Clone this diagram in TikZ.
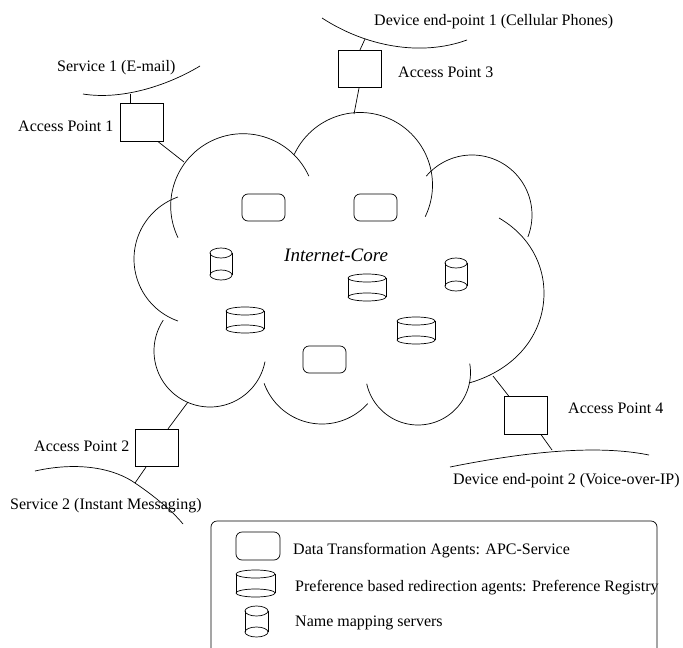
\documentclass[tikz,border=0pt]{standalone}
\usepackage{fontspec}
\setmainfont{Liberation Serif}
\tikzset{
  x=1pt,y=-1pt,
  line/.style={draw=black,line width=0.7pt},
  apbox/.style={line,rectangle,minimum width=43pt,minimum height=37.5pt,inner sep=0pt},
  agent/.style={line,rectangle,rounded corners=6pt,minimum width=43pt,minimum height=27pt,inner sep=0pt},
  lab/.style={anchor=base west,inner sep=0pt,font=\fontsize{16}{18}\selectfont},
}
% lobe of the cloud: centre x, centre y, radius, from angle, to angle (clockwise on screen)
\newcommand{\lobe}[5]{\draw[line] plot[domain=#4:#5,samples=90] ({#1+#3*cos(\x)},{#2+#3*sin(\x)});}
% drum: left x, right x, top y, bottom y, ellipse height
\newcommand{\drum}[5]{%
  \draw[line] ({(#1+#2)/2},{#3+#5/2}) ellipse [x radius={(#2-#1)/2},y radius={#5/2}];
  \draw[line] ({(#1+#2)/2},{#4-#5/2}) ellipse [x radius={(#2-#1)/2},y radius={#5/2}];
  \draw[line] (#1,{#3+#5/2}) -- (#1,{#4-#5/2}) (#2,{#3+#5/2}) -- (#2,{#4-#5/2});}
\begin{document}
\begin{tikzpicture}
\useasboundingbox (0,0) rectangle (683,648);
% cloud
\lobe{243}{206}{72.3}{154}{335.6}
\lobe{360}{185}{72.5}{204.8}{385.9}
\lobe{472}{215}{60}{220.3}{381.4}
\draw[line] (499,218) .. controls (530,236) and (544,265) .. (544,293)
  .. controls (544,335) and (515,370) .. (469,383);
\lobe{418}{372.5}{52.5}{-9.8}{167.6}
\lobe{322}{362.5}{61.5}{42}{160.2}
\lobe{210}{351}{56}{11}{213.4}
\lobe{199.7}{259}{65.7}{109.3}{250.7}
% access points
\node[apbox] (ap1) at (141.5,122.5) {};
\node[apbox] (ap3) at (359.5,69) {};
\node[apbox] (ap2) at (157,448) {};
\node[apbox] (ap4) at (525.5,415.5) {};
% free ends of connectors
\coordinate (s1) at (130,94);
\coordinate (c1) at (184,162);
\coordinate (d1) at (365,39);
\coordinate (c3) at (354,114);
\coordinate (c2) at (188,402);
\coordinate (s2) at (135,483);
\coordinate (c4) at (493,376);
\coordinate (d2) at (552,450);
\draw[line] (s1) -- (ap1.north -| s1);
\draw[line] (ap1.south -| 158,0) -- (c1);
\draw[line] (d1) -- (ap3.north -| 360,0);
\draw[line] (ap3.south -| 359,0) -- (c3);
\draw[line] (ap2.north -| 168,0) -- (c2);
\draw[line] (ap2.south -| 146,0) -- (s2);
\draw[line] (ap4.north -| 509,0) -- (c4);
\draw[line] (ap4.south -| 541,0) -- (d2);
% end-point curves
\draw[line] (83,94) .. controls (120,100) and (165,87) .. (200,66);
\draw[line] (322,18) .. controls (365,46) and (420,57) .. (467,40);
\draw[line] (35,471) .. controls (80,461) and (115,469) .. (s2) .. controls (147,491) and (170,508) .. (183,524);
\draw[line] (450,467) .. controls (510,455) and (590,443) .. (649,455);
% agents
\node[agent] (a1) at (263.5,207.5) {};
\node[agent] (a2) at (375.5,207.5) {};
\node[agent] (a3) at (324.5,359.5) {};
% drums
\drum{210}{232}{248}{280}{10}
\drum{445}{467}{258}{291}{10}
\drum{226}{264}{307}{333}{8}
\drum{348}{386}{274}{301}{8}
\drum{397}{435}{317}{344}{8}
% labels
\node[lab] (t1) at (57,71) {Service 1 (E-mail)};
\node[lab] (t2) at (18,131) {Access Point 1};
\node[lab] (t3) at (374,25) {Device end-point 1 (Cellular Phones)};
\node[lab] (t4) at (398,77) {Access Point 3};
\node[lab,font=\fontsize{19}{22}\selectfont\itshape] (t5) at (284,261) {Internet-Core};
\node[lab] (t6) at (34,451) {Access Point 2};
\node[lab] (t7) at (10,509) {Service 2 (Instant Messaging)};
\node[lab] (t8) at (568,413) {Access Point 4};
\node[lab] (t9) at (453,484) {Device end-point 2 (Voice-over-IP)};
% legend
\draw[line,rounded corners=6pt] (211,660) -- (211,521) -- (657,521) -- (657,660);
\node[agent,minimum width=44pt,minimum height=28pt] (l1) at (258,546) {};
\drum{236}{275}{570}{597}{8}
\drum{245}{268}{606}{637}{10}
\node[lab] (t10) at (293,554) {Data Transformation Agents: APC-Service};
\node[lab] (t11) at (295,591) {Preference based redirection agents: Preference Registry};
\node[lab] (t12) at (295,626) {Name mapping servers};
\end{tikzpicture}
\end{document}
